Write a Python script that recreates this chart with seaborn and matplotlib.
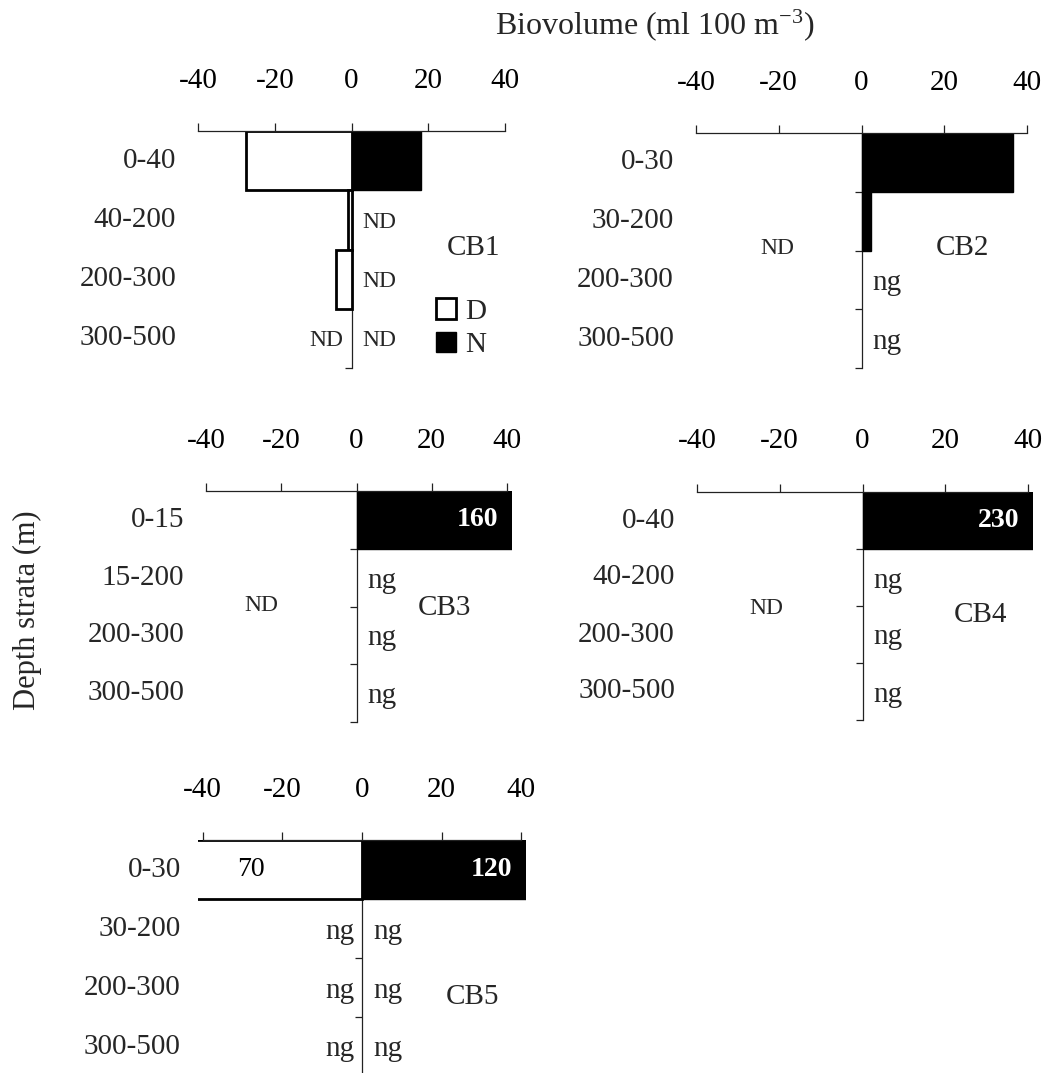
import numpy as np
import pandas as pd
import matplotlib
matplotlib.use("Agg")
import matplotlib.pyplot as plt
import matplotlib.transforms as mtransforms
from matplotlib.patches import Patch
import seaborn as sns

# ---------------- data ----------------
stations = ["CB1", "CB2", "CB3", "CB4", "CB5"]

depth_cb1 = ["0-40", "40-200", "200-300", "300-500"]
depth_cb2 = ["0-30", "30-200", "200-300", "300-500"]
depth_cb3 = ["0-15", "15-200", "200-300", "300-500"]
depth_cb4 = ["0-40", "40-200", "200-300", "300-500"]
depth_cb5 = ["0-30", "30-200", "200-300", "300-500"]

# Biovolume (ml 100 m^-3); NaN = no bar drawn
day_cb1 = [27.5, 0.8, 4.0, np.nan]
night_cb1 = [18.0, np.nan, np.nan, np.nan]
day_cb2 = [np.nan, np.nan, np.nan, np.nan]
night_cb2 = [36.6, 2.4, np.nan, np.nan]
day_cb3 = [np.nan, np.nan, np.nan, np.nan]
night_cb3 = [160, np.nan, np.nan, np.nan]
day_cb4 = [np.nan, np.nan, np.nan, np.nan]
night_cb4 = [230, np.nan, np.nan, np.nan]
day_cb5 = [70, np.nan, np.nan, np.nan]
night_cb5 = [120, np.nan, np.nan, np.nan]

# notes per stratum (ND = no data, ng = negligible)
day_note_cb1 = ["", "", "", "ND"]
night_note_cb1 = ["", "ND", "ND", "ND"]
day_note_cb2 = ["", "", "", ""]
night_note_cb2 = ["", "", "ng", "ng"]
day_note_cb3 = ["", "", "", ""]
night_note_cb3 = ["", "ng", "ng", "ng"]
day_note_cb4 = ["", "", "", ""]
night_note_cb4 = ["", "ng", "ng", "ng"]
day_note_cb5 = ["", "ng", "ng", "ng"]
night_note_cb5 = ["", "ng", "ng", "ng"]

# whole day profile missing
day_missing = [False, True, True, True, False]

x_ticks = [-40, -20, 0, 20, 40]
legend_labels = ["D", "N"]
title_text = r"Biovolume (ml 100 m$^{\mathregular{-3}}$)"
ylabel_text = "Depth strata (m)"

depths = [depth_cb1, depth_cb2, depth_cb3, depth_cb4, depth_cb5]
days = [day_cb1, day_cb2, day_cb3, day_cb4, day_cb5]
nights = [night_cb1, night_cb2, night_cb3, night_cb4, night_cb5]
day_notes = [day_note_cb1, day_note_cb2, day_note_cb3, day_note_cb4, day_note_cb5]
night_notes = [night_note_cb1, night_note_cb2, night_note_cb3, night_note_cb4, night_note_cb5]

# ---------------- layout (pixels) ----------------
W, H = 1052, 1073
rects = [  # left, top, right, bottom in pixels
    (193.4, 131, 509.6, 368),
    (691, 133, 1032, 368),
    (201.5, 491, 511.5, 722),
    (692, 492, 1033, 720),
    (198, 840, 526, 1076),
]
station_pos = [(31.7, 1.48), (24.3, 1.46), (23.5, 1.52), (28.4, 1.65), (27.7, 2.16)]
nd_pos = [None, (-20.4, 1.46), (-25.4, 1.49), (-23.3, 1.55), None]
XL = 41.2

sns.set_style("white")
plt.rcParams["font.family"] = ["Liberation Serif", "DejaVu Serif"]
plt.rcParams["mathtext.default"] = "regular"
plt.rcParams["axes.unicode_minus"] = False

BIG = 21
SMALL = 17

fig = plt.figure(figsize=(W / 100, H / 100), dpi=100)

for k, st in enumerate(stations):
    l, t, r, b = rects[k]
    ax = fig.add_axes([l / W, 1 - b / H, (r - l) / W, (b - t) / H])
    df = pd.DataFrame({"depth": depths[k], "day": days[k], "night": nights[k]})
    df["day_neg"] = -df["day"]

    dd = df.dropna(subset=["day"])
    if len(dd):
        sns.barplot(data=dd, x="day_neg", y="depth", order=depths[k], orient="h",
                    color="white", edgecolor="black", linewidth=2, width=1,
                    saturation=1, errorbar=None, ax=ax)
    dn = df.dropna(subset=["night"])
    if len(dn):
        sns.barplot(data=dn, x="night", y="depth", order=depths[k], orient="h",
                    color="black", edgecolor="black", linewidth=1, width=1,
                    saturation=1, errorbar=None, ax=ax)

    ax.set_xlim(-XL, XL)
    ax.set_ylim(3.5, -0.5)
    ax.set_xlabel("")
    ax.set_ylabel("")

    # axes styling
    for s in ["right", "bottom"]:
        ax.spines[s].set_visible(False)
    ax.spines["top"].set_visible(True)
    ax.spines["top"].set_bounds(-40, 40)
    ax.spines["top"].set_linewidth(0.9)
    ax.spines["top"].set_color("#222222")
    ax.spines["left"].set_visible(True)
    ax.spines["left"].set_position(("data", 0))
    ax.spines["left"].set_bounds(-0.5, 3.5)
    ax.spines["left"].set_linewidth(0.9)
    ax.spines["left"].set_color("#222222")
    ax.spines["left"].set_zorder(0.5)

    ax.xaxis.tick_top()
    ax.set_xticks(x_ticks)
    ax.set_xticklabels([str(v) for v in x_ticks])
    ax.tick_params(axis="x", which="major", direction="out", length=6, width=0.9,
                   pad=21, labelsize=BIG, colors="#222222", labelcolor="black", top=True, bottom=False)
    ax.set_yticks([])
    ax.set_yticks([0.5, 1.5, 2.5, 3.5], minor=True)
    ax.tick_params(axis="y", which="minor", direction="out", length=5, width=0.9,
                   left=True, colors="#222222")
    ax.grid(False)

    # depth labels
    lab_tr = mtransforms.offset_copy(ax.transData, fig=fig, x=-22, y=0, units="dots")
    for i, d in enumerate(depths[k]):
        ax.text(-40, i, d, ha="right", va="center", fontsize=BIG, transform=lab_tr, clip_on=False)

    # notes
    right_tr = mtransforms.offset_copy(ax.transData, fig=fig, x=11, y=0, units="dots")
    left_tr = mtransforms.offset_copy(ax.transData, fig=fig, x=-8, y=0, units="dots")
    for i in range(4):
        nn = night_notes[k][i]
        if nn:
            ax.text(0, i, nn, ha="left", va="center_baseline",
                    fontsize=SMALL if nn == "ND" else BIG, transform=right_tr)
        dn_ = day_notes[k][i]
        if dn_:
            ax.text(0, i, dn_, ha="right", va="center_baseline",
                    fontsize=SMALL if dn_ == "ND" else BIG, transform=left_tr)

    # values exceeding the axis
    nv_tr = mtransforms.offset_copy(ax.transData, fig=fig, x=-9, y=0, units="dots")
    dv_tr = mtransforms.offset_copy(ax.transData, fig=fig, x=34, y=0, units="dots")
    for i in range(4):
        v = nights[k][i]
        if not np.isnan(v) and v > 40:
            ax.text(40, i, f"{v:g}", ha="right", va="center", color="white",
                    fontweight="bold", fontsize=BIG - 1, transform=nv_tr)
        v = days[k][i]
        if not np.isnan(v) and v > 40:
            ax.text(-40, i, f"{v:g}", ha="left", va="center", color="black",
                    fontsize=BIG - 1, transform=dv_tr)

    if day_missing[k] and nd_pos[k] is not None:
        ax.text(nd_pos[k][0], nd_pos[k][1], "ND", ha="center", va="center", fontsize=SMALL)

    ax.text(station_pos[k][0], station_pos[k][1], st, ha="center", va="center", fontsize=BIG)

    if k == 0:
        handles = [Patch(facecolor="white", edgecolor="black", linewidth=2),
                   Patch(facecolor="black", edgecolor="black")]
        ax.legend(handles, legend_labels, loc="center left", bbox_to_anchor=(22.0, 2.83),
                  bbox_transform=ax.transData, frameon=False, borderpad=0, borderaxespad=0,
                  handlelength=0.7, handleheight=0.7, handletextpad=0.3,
                  labelspacing=0.25, fontsize=BIG)

fig.text(655 / W, 1 - 25 / H, title_text, ha="center", va="center", fontsize=BIG + 2)
fig.text(27 / W, 1 - 610 / H, ylabel_text, ha="center", va="center", rotation=90, fontsize=BIG + 1)

fig.savefig("out.png", dpi=100, facecolor="white")
